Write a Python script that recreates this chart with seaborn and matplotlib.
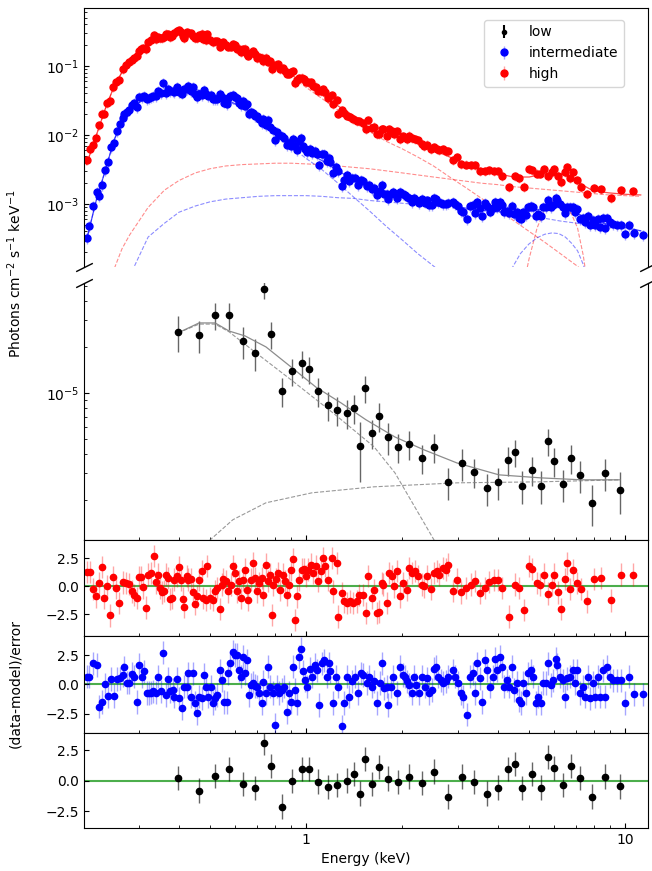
import numpy as np
import matplotlib
matplotlib.use("Agg")
import matplotlib.pyplot as plt
import matplotlib.ticker as mticker
import seaborn as sns

# ---------------- data ----------------
# energies in keV; red/blue spectra as log10(photons cm^-2 s^-1 keV^-1)
high_E = [0.206, 0.211, 0.215, 0.220, 0.224, 0.229, 0.233, 0.238, 0.243, 0.249, 0.254, 0.259, 0.267, 0.273, 0.279,
          0.285, 0.289, 0.295, 0.300, 0.304, 0.308, 0.315, 0.320, 0.327, 0.334, 0.338, 0.343, 0.349, 0.354, 0.359,
          0.364, 0.369, 0.375, 0.380, 0.386, 0.394, 0.400, 0.406, 0.411, 0.414, 0.424, 0.427, 0.436, 0.442, 0.449,
          0.455, 0.462, 0.472, 0.476, 0.486, 0.489, 0.500, 0.511, 0.519, 0.526, 0.538, 0.545, 0.549, 0.561, 0.570,
          0.582, 0.590, 0.599, 0.608, 0.617, 0.625, 0.634, 0.644, 0.653, 0.658, 0.672, 0.682, 0.692, 0.702, 0.712,
          0.728, 0.733, 0.749, 0.760, 0.771, 0.782, 0.788, 0.805, 0.817, 0.829, 0.847, 0.859, 0.872, 0.885, 0.897,
          0.910, 0.924, 0.937, 0.951, 0.971, 0.986, 1.000, 1.014, 1.037, 1.052, 1.075, 1.091, 1.114, 1.131, 1.147,
          1.172, 1.206, 1.215, 1.251, 1.260, 1.297, 1.316, 1.344, 1.374, 1.404, 1.445, 1.466, 1.509, 1.542, 1.564,
          1.610, 1.634, 1.670, 1.694, 1.731, 1.744, 1.794, 1.821, 1.861, 1.888, 1.929, 1.971, 2.014, 2.073, 2.104,
          2.150, 2.197, 2.245, 2.310, 2.344, 2.395, 2.466, 2.519, 2.575, 2.612, 2.688, 2.747, 2.787, 2.889, 2.974,
          3.061, 3.173, 3.289, 3.386, 3.510, 3.639, 3.745, 3.883, 3.996, 4.113, 4.327, 4.518, 4.649, 4.821, 4.998,
          5.107, 5.295, 5.410, 5.568, 5.731, 5.899, 5.985, 6.161, 6.297, 6.479, 6.575, 6.717, 6.863, 7.064, 7.270,
          7.590, 7.985, 8.398, 9.025, 9.700, 10.58]
high_logflux = [-2.37, -2.21, -2.14, -2.04, -1.86, -1.69, -1.69, -1.54, -1.51, -1.31, -1.24, -1.20, -1.05, -0.99, -0.94,
                -0.91, -0.89, -0.86, -0.78, -0.75, -0.74, -0.76, -0.65, -0.62, -0.55, -0.61, -0.58, -0.60, -0.60, -0.58,
                -0.53, -0.54, -0.58, -0.57, -0.52, -0.50, -0.48, -0.51, -0.56, -0.60, -0.51, -0.52, -0.52, -0.57, -0.60,
                -0.59, -0.55, -0.53, -0.61, -0.63, -0.54, -0.63, -0.66, -0.64, -0.64, -0.72, -0.67, -0.66, -0.69, -0.72,
                -0.72, -0.68, -0.70, -0.76, -0.75, -0.80, -0.76, -0.75, -0.82, -0.85, -0.81, -0.78, -0.83, -0.88, -0.87,
                -0.88, -0.93, -0.88, -0.94, -0.93, -1.05, -0.98, -0.98, -0.97, -1.04, -1.03, -1.07, -1.11, -1.11, -1.09,
                -1.07, -1.25, -1.21, -1.18, -1.17, -1.19, -1.23, -1.23, -1.24, -1.29, -1.30, -1.37, -1.36, -1.33, -1.38,
                -1.46, -1.42, -1.55, -1.49, -1.69, -1.64, -1.68, -1.72, -1.74, -1.77, -1.80, -1.80, -1.83, -1.92, -1.79,
                -1.90, -1.88, -1.99, -1.99, -1.91, -1.92, -2.01, -1.91, -1.94, -1.99, -1.95, -2.06, -2.02, -2.06, -2.01,
                -2.04, -2.06, -2.08, -2.13, -2.16, -2.14, -2.21, -2.18, -2.20, -2.22, -2.21, -2.24, -2.23, -2.36, -2.32,
                -2.42, -2.43, -2.44, -2.44, -2.53, -2.52, -2.51, -2.52, -2.53, -2.59, -2.76, -2.60, -2.63, -2.75, -2.50,
                -2.51, -2.56, -2.56, -2.50, -2.60, -2.54, -2.49, -2.59, -2.68, -2.54, -2.47, -2.62, -2.54, -2.66, -2.75,
                -2.86, -2.77, -2.78, -2.92, -2.80, -2.81]
high_resid = [1.3, 1.3, -0.25, -0.9, 0.3, 1.75, -1.0, 0.0, -2.6, 0.8, -0.15, -1.5, 0.35, 0.3, 0.2,
              -0.45, -0.8, -1.05, 0.8, 0.8, -0.1, -1.9, 1.05, 1.2, 2.7, 0.35, 1.05, -0.15, -0.55, -0.4,
              1.05, 0.75, -1.15, -1.05, 0.6, 0.95, 1.75, 0.6, -1.1, -1.85, 0.9, 0.6, 0.65, -0.55, -1.55,
              -0.9, 0.6, 1.35, -1.05, -1.2, 1.8, -1.05, -1.2, -0.45, -0.15, -2.0, 0.15, 0.65, 0.45, -0.45,
              0.15, 1.8, 1.2, -0.45, 0.45, -1.05, 0.6, 1.5, -0.3, -1.2, 0.6, 2.05, 0.75, -0.45, 0.3,
              0.75, -0.75, 1.95, 0.45, 1.05, -2.55, 0.15, 0.65, 1.2, -0.3, 1.05, 0.45, -0.75, 0.15, 1.5,
              2.45, -3.0, -0.9, 0.6, 1.5, 1.55, 0.9, 1.5, 1.95, 1.2, 1.8, 0.45, 1.35, 2.55, 1.8,
              0.6, 2.55, -0.45, 2.1, -2.7, -0.6, -1.35, -1.5, -1.35, -1.5, -1.35, -0.75, -0.75, -2.4, 0.9,
              -1.05, -0.3, -2.4, -2.25, 0.3, 0.15, -1.5, 1.2, 0.9, 0.0, 1.35, -0.9, 0.3, -0.3, 1.65,
              1.2, 1.35, 0.9, 0.15, 0.0, 0.9, -0.25, 1.2, 1.35, 1.05, 1.65, 1.5, 1.95, -0.4, 0.6,
              -0.55, -0.15, 0.15, 0.45, -0.6, -0.15, 0.4, 0.55, 0.55, -0.15, -2.7, 0.15, -0.15, -2.1, 1.8,
              1.55, 0.3, 0.15, 1.05, -0.65, 0.15, 1.05, -0.55, -2.05, 0.65, 2.05, -0.25, 1.45, 0.3, -0.25,
              -1.35, 0.65, 0.75, -1.25, 1.05, 1.05]

mid_E = [0.206, 0.209, 0.215, 0.221, 0.224, 0.229, 0.234, 0.240, 0.245, 0.250, 0.256, 0.261, 0.267, 0.269, 0.275,
         0.279, 0.285, 0.289, 0.295, 0.300, 0.306, 0.311, 0.317, 0.322, 0.327, 0.331, 0.338, 0.343, 0.351, 0.356,
         0.364, 0.369, 0.375, 0.383, 0.386, 0.394, 0.400, 0.409, 0.414, 0.424, 0.427, 0.436, 0.442, 0.449, 0.455,
         0.462, 0.472, 0.479, 0.486, 0.493, 0.504, 0.511, 0.519, 0.526, 0.538, 0.545, 0.553, 0.565, 0.570, 0.578,
         0.590, 0.599, 0.608, 0.617, 0.625, 0.634, 0.644, 0.653, 0.663, 0.672, 0.682, 0.692, 0.702, 0.712, 0.728,
         0.733, 0.749, 0.760, 0.771, 0.788, 0.800, 0.811, 0.823, 0.841, 0.853, 0.872, 0.885, 0.897, 0.910, 0.924,
         0.937, 0.951, 0.965, 0.979, 0.993, 1.007, 1.029, 1.044, 1.067, 1.083, 1.098, 1.122, 1.139, 1.163, 1.181,
         1.189, 1.215, 1.242, 1.260, 1.297, 1.316, 1.344, 1.364, 1.394, 1.424, 1.456, 1.487, 1.509, 1.553, 1.576,
         1.610, 1.634, 1.670, 1.707, 1.731, 1.756, 1.794, 1.808, 1.847, 1.874, 1.929, 1.971, 2.014, 2.044, 2.073,
         2.104, 2.150, 2.181, 2.213, 2.262, 2.311, 2.361, 2.395, 2.430, 2.483, 2.519, 2.556, 2.593, 2.650, 2.688,
         2.747, 2.787, 2.889, 2.931, 2.995, 3.061, 3.105, 3.196, 3.266, 3.337, 3.386, 3.435, 3.510, 3.561, 3.639,
         3.692, 3.772, 3.855, 3.911, 3.968, 4.054, 4.113, 4.172, 4.264, 4.326, 4.421, 4.485, 4.583, 4.649, 4.716,
         4.786, 4.890, 4.961, 5.071, 5.144, 5.257, 5.333, 5.449, 5.528, 5.649, 5.731, 5.856, 5.942, 6.071, 6.115,
         6.250, 6.385, 6.479, 6.575, 6.717, 6.863, 6.963, 7.064, 7.218, 7.376, 7.482, 7.647, 7.758, 7.927, 8.042,
         8.218, 8.337, 8.519, 8.642, 8.769, 8.961, 9.157, 9.425, 9.703, 9.984, 10.28, 10.65, 11.36]
mid_logflux = [-3.50, -3.32, -3.03, -2.83, -2.89, -2.73, -2.51, -2.39, -2.18, -2.12, -1.95, -1.84, -1.75, -1.69, -1.67,
               -1.64, -1.56, -1.54, -1.60, -1.45, -1.45, -1.43, -1.48, -1.46, -1.45, -1.43, -1.43, -1.36, -1.39, -1.25,
               -1.39, -1.33, -1.36, -1.36, -1.38, -1.31, -1.38, -1.40, -1.33, -1.34, -1.29, -1.37, -1.30, -1.40, -1.45,
               -1.40, -1.42, -1.35, -1.40, -1.44, -1.42, -1.48, -1.48, -1.48, -1.40, -1.45, -1.53, -1.55, -1.46, -1.44,
               -1.42, -1.45, -1.46, -1.53, -1.56, -1.51, -1.58, -1.55, -1.69, -1.67, -1.68, -1.72, -1.73, -1.77, -1.83,
               -1.77, -1.85, -1.79, -1.88, -1.93, -2.07, -1.96, -2.00, -2.02, -2.04, -2.15, -2.11, -2.16, -2.06, -2.16,
               -2.22, -2.09, -2.04, -2.16, -2.21, -2.25, -2.20, -2.26, -2.23, -2.27, -2.43, -2.28, -2.28, -2.38, -2.34,
               -2.39, -2.55, -2.47, -2.53, -2.74, -2.66, -2.58, -2.67, -2.63, -2.63, -2.72, -2.65, -2.67, -2.74, -2.72,
               -2.78, -2.77, -2.87, -2.81, -2.73, -2.85, -2.85, -2.93, -2.86, -2.83, -2.92, -2.82, -2.86, -2.87, -2.90,
               -2.92, -2.97, -2.91, -2.94, -2.99, -2.93, -2.98, -2.95, -3.02, -3.02, -2.92, -2.93, -2.97, -2.98, -3.00,
               -3.00, -2.99, -2.97, -3.00, -3.03, -3.10, -3.12, -3.22, -3.03, -3.02, -3.13, -2.97, -3.06, -3.18, -2.98,
               -3.03, -3.11, -3.06, -2.97, -3.04, -2.97, -3.02, -3.12, -3.10, -3.13, -3.03, -3.15, -3.11, -3.20, -3.22,
               -3.11, -3.16, -3.05, -3.03, -3.05, -3.18, -3.14, -3.17, -3.05, -3.04, -2.94, -3.04, -3.02, -2.91, -2.94,
               -3.00, -3.04, -3.13, -3.05, -3.05, -3.04, -3.12, -3.07, -3.22, -3.20, -3.26, -3.18, -3.30, -3.23, -3.31,
               -3.22, -3.33, -3.21, -3.35, -3.20, -3.26, -3.29, -3.30, -3.31, -3.44, -3.31, -3.42, -3.45]
mid_resid = [0.65, 0.65, 1.8, 1.65, -1.9, -1.5, 0.0, -1.0, 0.45, -1.0, 0.45, 0.5, 0.8, 1.45, 0.15,
             0.15, 0.9, 0.65, -1.5, 1.65, 0.65, 1.1, -0.75, -0.75, -0.7, -0.6, -0.7, 0.65, -0.6, 2.7,
             -0.9, 0.45, -0.6, -0.5, -1.05, 0.45, -1.2, -2.05, -0.2, -0.2, 0.95, -1.05, 0.95, -1.6, -2.45,
             -1.05, -1.2, 0.8, -0.2, -1.05, -0.2, -1.6, -1.2, -0.9, 1.2, 0.35, -1.5, -1.55, 0.95, 1.8,
             2.8, 2.5, 2.5, 1.2, 0.65, 2.35, 0.95, 2.05, -0.9, -0.05, 0.15, -0.15, -0.2, -0.7, -1.6,
             0.2, -0.75, 1.5, -0.2, -0.75, -3.45, -0.2, -0.75, -0.5, -0.2, -2.35, -0.75, -1.5, 1.5, -0.5,
             -1.6, 2.35, 3.05, 1.1, 0.35, -0.2, 1.35, 0.65, 1.65, 1.2, -1.75, 1.8, 2.05, 0.65, 1.8,
             1.1, -1.6, 0.65, -0.2, -3.6, -1.6, 0.65, -1.05, 0.25, 0.65, -0.75, 0.95, 0.8, 0.1, 0.65,
             -0.2, 0.25, -1.6, 0.1, 1.8, -0.35, -0.2, -1.75, -0.2, 0.65, -0.75, 1.5, 0.8, 0.65, 0.25,
             -0.05, -0.75, 0.65, -0.05, -0.75, 0.65, -0.2, 0.5, -0.75, -0.5, 1.35, 1.5, 0.65, 0.35, 0.1,
             0.25, 0.65, 1.2, 0.65, 0.1, -0.75, -1.05, -2.6, 0.65, 0.95, -0.75, 1.8, 0.5, -1.5, 2.05,
             1.2, -0.2, 0.65, 2.2, 1.2, 2.35, 1.5, -0.2, 0.35, -0.2, 1.5, -0.5, 0.1, -1.35, -1.6,
             0.1, -0.75, 0.95, 1.2, 0.65, -1.6, -1.05, -1.6, 0.1, 0.1, 1.8, -0.05, 0.35, 2.2, 1.65,
             0.65, 0.35, -1.05, 0.5, 0.65, 1.2, 0.1, 1.2, -0.75, -0.2, -1.05, 0.65, -1.2, 0.1, -1.05,
             0.65, -1.05, 1.2, -1.05, 1.5, 0.65, 0.35, 0.35, 0.35, -1.6, 0.65, -0.85, -0.85]

low_E = [0.397, 0.462, 0.519, 0.574, 0.635, 0.692, 0.738, 0.777, 0.841, 0.904, 0.971, 1.022, 1.09, 1.17, 1.25,
         1.34, 1.41, 1.48, 1.53, 1.61, 1.69, 1.81, 1.94, 2.10, 2.31, 2.52, 2.79, 3.08, 3.36, 3.69,
         4.00, 4.30, 4.52, 4.75, 5.11, 5.45, 5.74, 5.99, 6.39, 6.77, 7.22, 7.88, 8.65, 9.64]
low_flux = [2.51e-5, 2.39e-5, 3.24e-5, 3.24e-5, 2.19e-5, 1.82e-5, 4.79e-5, 2.43e-5, 1.03e-5, 1.39e-5, 1.57e-5,
            1.44e-5, 1.03e-5, 8.35e-6, 7.74e-6, 7.40e-6, 7.98e-6, 4.51e-6, 1.08e-5, 5.48e-6, 7.08e-6, 5.16e-6,
            4.44e-6, 4.65e-6, 3.76e-6, 4.44e-6, 2.62e-6, 3.48e-6, 3.05e-6, 2.39e-6, 2.62e-6, 3.65e-6, 4.11e-6,
            2.47e-6, 3.14e-6, 2.47e-6, 4.85e-6, 3.60e-6, 2.54e-6, 3.76e-6, 2.91e-6, 1.91e-6, 3.00e-6, 2.32e-6]
low_rel_err = [0.26, 0.24, 0.2, 0.2, 0.24, 0.24, 0.14, 0.2, 0.22, 0.2, 0.2, 0.2, 0.22, 0.22, 0.22,
               0.22, 0.22, 0.42, 0.2, 0.22, 0.22, 0.24, 0.22, 0.22, 0.22, 0.22, 0.24, 0.24, 0.22, 0.24,
               0.24, 0.22, 0.2, 0.24, 0.22, 0.24, 0.2, 0.22, 0.24, 0.22, 0.24, 0.3, 0.24, 0.3]
low_resid = [0.22, -0.79, 0.41, 0.96, -0.25, -0.60, 3.09, 1.23, -2.10, 0.0, 0.96, 0.96, -0.05, -0.49, -0.33,
             0.03, 0.55, -1.04, 1.80, -0.25, 1.12, 0.19, -0.08, 0.36, -0.19, 0.77, -1.28, 0.36, -0.08, -1.04,
             -0.55, 0.96, 1.39, -0.60, 0.55, -0.55, 1.97, 1.04, -0.33, 1.23, 0.25, -1.28, 0.36, -0.44]

high_rel_err = 0.15
mid_rel_err = 0.18

# model curves (log10 units for red/blue), knots in keV
model_E = [0.205, 0.22, 0.235, 0.25, 0.265, 0.28, 0.32, 0.36, 0.40, 0.45, 0.50, 0.56, 0.63, 0.71, 0.80, 0.90, 1.0,
           1.12, 1.26, 1.41, 1.58, 1.78, 2.0, 2.24, 2.51, 2.82, 3.16, 3.55, 3.98, 4.47, 5.01, 5.62, 6.31, 7.08,
           7.94, 8.91, 10.0, 11.2]
high_total = [-2.43, -2.01, -1.62, -1.30, -1.09, -0.93, -0.68, -0.57, -0.53, -0.55, -0.60, -0.70, -0.78, -0.88,
              -1.00, -1.13, -1.27, -1.42, -1.58, -1.72, -1.84, -1.95, -2.03, -2.12, -2.22, -2.32, -2.42, -2.50,
              -2.56, -2.61, -2.61, -2.56, -2.56, -2.68, -2.81, -2.84, -2.86, -2.87]
high_hard = [-5.5, -5.0, -4.5, -3.95, -3.65, -3.45, -3.05, -2.80, -2.66, -2.55, -2.49, -2.45, -2.43, -2.42,
             -2.41, -2.41, -2.42, -2.43, -2.45, -2.47, -2.49, -2.52, -2.55, -2.58, -2.61, -2.64, -2.67, -2.70,
             -2.72, -2.75, -2.77, -2.79, -2.81, -2.83, -2.85, -2.87, -2.88, -2.89]
high_soft = [-2.43, -2.01, -1.62, -1.30, -1.09, -0.93, -0.68, -0.58, -0.54, -0.56, -0.61, -0.71, -0.80, -0.90,
             -1.02, -1.16, -1.31, -1.47, -1.64, -1.80, -1.95, -2.09, -2.20, -2.32, -2.45, -2.61, -2.76, -2.92,
             -3.08, -3.24, -3.40, -3.56, -3.73, -3.90, -4.10, -4.3, -4.5, -4.7]
mid_total = [-3.53, -2.95, -2.51, -2.08, -1.80, -1.63, -1.44, -1.36, -1.33, -1.34, -1.40, -1.48, -1.60, -1.73,
             -1.93, -2.10, -2.24, -2.37, -2.52, -2.65, -2.75, -2.84, -2.89, -2.94, -2.99, -3.02, -3.06, -3.09,
             -3.11, -3.12, -3.11, -3.06, -3.05, -3.14, -3.24, -3.30, -3.34, -3.39]
mid_hard = [-6.0, -5.5, -5.0, -4.6, -4.3, -4.05, -3.48, -3.28, -3.12, -3.03, -2.97, -2.93, -2.91, -2.89,
            -2.88, -2.88, -2.88, -2.89, -2.91, -2.92, -2.95, -2.97, -2.99, -3.01, -3.03, -3.05, -3.08, -3.10,
            -3.12, -3.14, -3.17, -3.21, -3.25, -3.28, -3.31, -3.34, -3.36, -3.39]
mid_soft = [-3.53, -2.95, -2.51, -2.08, -1.80, -1.63, -1.44, -1.37, -1.34, -1.35, -1.41, -1.49, -1.62, -1.76,
            -1.98, -2.17, -2.34, -2.50, -2.70, -2.90, -3.10, -3.32, -3.52, -3.72, -3.90, -4.10, -4.3, -4.5,
            -4.7, -4.9, -5.1, -5.3, -5.5, -5.7, -5.9, -6.1, -6.3, -6.5]
line_E = [4.4, 4.7, 5.0, 5.3, 5.6, 5.9, 6.2, 6.5, 6.8, 7.1, 7.4, 7.7, 8.0]
high_line = [-5.0, -4.4, -3.80, -3.35, -3.08, -2.96, -2.95, -3.03, -3.15, -3.35, -3.75, -4.3, -5.0]
mid_line = [-3.95, -3.72, -3.58, -3.49, -3.44, -3.42, -3.43, -3.48, -3.57, -3.68, -3.88, -4.15, -4.5]

low_model_E = [0.397, 0.462, 0.519, 0.574, 0.644, 0.749, 0.897, 1.075, 1.287, 1.542, 1.900, 2.344, 2.974, 4.025,
               5.449, 7.32, 9.64]
low_model = [2.47e-5, 2.87e-5, 2.87e-5, 2.54e-5, 2.36e-5, 2.00e-5, 1.48e-5, 1.09e-5, 8.61e-6, 6.67e-6, 5.15e-6,
             4.24e-6, 3.48e-6, 2.91e-6, 2.78e-6, 2.70e-6, 2.70e-6]
low_soft_E = [0.397, 0.462, 0.519, 0.574, 0.692, 0.897, 1.215, 1.634, 1.900, 2.52, 2.8]
low_soft = [2.47e-5, 2.82e-5, 2.82e-5, 2.51e-5, 1.85e-5, 1.22e-5, 7.40e-6, 4.44e-6, 3.00e-6, 1.09e-6, 5.0e-7]
low_hard_E = [0.45, 0.500, 0.590, 0.749, 1.044, 1.634, 2.974, 5.449, 9.64]
low_hard = [5.0e-7, 1.09e-6, 1.48e-6, 1.91e-6, 2.22e-6, 2.43e-6, 2.58e-6, 2.62e-6, 2.70e-6]

for a, b in [(high_E, high_logflux), (high_E, high_resid), (mid_E, mid_logflux), (mid_E, mid_resid),
             (low_E, low_flux), (low_E, low_resid), (low_E, low_rel_err)]:
    assert len(a) == len(b), (len(a), len(b))


def lin(vals):
    # log10 readings -> photons cm^-2 s^-1 keV^-1
    return 10 ** np.asarray(vals, dtype=float)


plt.rcParams['font.family'] = ['DejaVu Sans']
plt.rcParams['font.size'] = 10

fig = plt.figure(figsize=(6.52, 8.71), dpi=100)
L, W = 0.1288, 0.865
ax_top = fig.add_axes([L, 0.6935, W, 0.2974])
ax_low = fig.add_axes([L, 0.380, W, 0.2951])
ax_r1 = fig.add_axes([L, 0.2698, W, 0.1102])
ax_r2 = fig.add_axes([L, 0.1584, W, 0.1114])
ax_r3 = fig.add_axes([L, 0.0494, W, 0.1091])
all_axes = [ax_top, ax_low, ax_r1, ax_r2, ax_r3]

for ax in all_axes:
    ax.set_xscale('log')
ax_top.set_yscale('log')
ax_low.set_yscale('log')

RED_E = (1, 0, 0, 0.35)
BLUE_E = (0, 0, 1, 0.35)
BLACK_E = (0, 0, 0, 0.6)

# top spectra
hi_f = lin(high_logflux)
mid_f = lin(mid_logflux)
h_mid = ax_top.errorbar(mid_E, mid_f, yerr=mid_f * mid_rel_err, fmt='o', ms=5, color='blue', ecolor=BLUE_E,
                        elinewidth=1, label='intermediate')
h_high = ax_top.errorbar(high_E, hi_f, yerr=hi_f * high_rel_err, fmt='o', ms=5, color='red', ecolor=RED_E,
                         elinewidth=1, label='high')
h_low = ax_top.errorbar([0.1], [1e-8], yerr=[1e-9], fmt='o', ms=3, color='k', label='low')

for E, vals, col in [(model_E, high_total, 'red'), (model_E, mid_total, 'blue')]:
    sns.lineplot(x=E, y=lin(vals), ax=ax_top, color=col, lw=0.9, alpha=0.7, estimator=None, sort=False)
for E, vals, col in [(model_E, high_hard, 'red'), (model_E, high_soft, 'red'), (line_E, high_line, 'red'),
                     (model_E, mid_hard, 'blue'), (model_E, mid_soft, 'blue'), (line_E, mid_line, 'blue')]:
    sns.lineplot(x=E, y=lin(vals), ax=ax_top, color=col, lw=0.8, alpha=0.45, ls='--', estimator=None, sort=False)

# low state spectrum
low_f = np.asarray(low_flux)
ax_low.errorbar(low_E, low_f, yerr=low_f * np.asarray(low_rel_err), fmt='o', ms=4.5, color='k', ecolor=BLACK_E,
                elinewidth=1)
sns.lineplot(x=low_model_E, y=low_model, ax=ax_low, color='gray', lw=0.9, alpha=0.9, estimator=None, sort=False)
sns.lineplot(x=low_soft_E, y=low_soft, ax=ax_low, color='gray', lw=0.8, alpha=0.8, ls='--', estimator=None, sort=False)
sns.lineplot(x=low_hard_E, y=low_hard, ax=ax_low, color='gray', lw=0.8, alpha=0.8, ls='--', estimator=None, sort=False)

# residuals
for ax, E, r, col, ecol in [(ax_r1, high_E, high_resid, 'red', RED_E), (ax_r2, mid_E, mid_resid, 'blue', BLUE_E),
                            (ax_r3, low_E, low_resid, 'k', BLACK_E)]:
    ax.axhline(0, color='tab:green', lw=1.5, alpha=0.85, zorder=1.5)
    ax.errorbar(E, r, yerr=np.ones(len(r)), fmt='o', ms=4.5, color=col, ecolor=ecol, elinewidth=1)
    ax.set_yticks([-2.5, 0.0, 2.5])

ax_r1.set_ylim(-4.44, 4.14)
ax_r2.set_ylim(-4.16, 4.13)
ax_r3.set_ylim(-3.85, 3.93)
ax_top.set_ylim(1.22e-4, 0.693)
ax_low.set_ylim(1.09e-6, 5.24e-5)

for ax in all_axes:
    ax.set_xlim(0.2014, 11.8)
    ax.tick_params(which='both', direction='in')
    ax.xaxis.set_major_formatter(mticker.FuncFormatter(lambda v, p: f'{v:g}'))
    ax.xaxis.set_minor_formatter(mticker.NullFormatter())
    ax.set_xlabel('')
    ax.set_ylabel('')
    if ax is not ax_r3:
        ax.tick_params(axis='x', which='both', labelbottom=False)

# broken axis between the two spectrum panels
ax_top.spines['bottom'].set_visible(False)
ax_top.tick_params(axis='x', which='both', bottom=False)
ax_low.spines['top'].set_visible(False)
brk = dict(marker=[(-1, -0.5), (1, 0.5)], markersize=12, linestyle='none', color='k', mec='k', mew=1,
           clip_on=False)
ax_top.plot([0, 1], [0, 0], transform=ax_top.transAxes, **brk)
ax_low.plot([0, 1], [1, 1], transform=ax_low.transAxes, **brk)

ax_top.legend([h_low, h_mid, h_high], ['low', 'intermediate', 'high'], loc='upper right',
              bbox_to_anchor=(0.957, 0.954), borderaxespad=0)

ax_r3.set_xlabel('Energy (keV)')
fig.text(0.023, 1 - 274 / 871, 'Photons cm$^{-2}$ s$^{-1}$ keV$^{-1}$', rotation=90, va='center', ha='center')
fig.text(0.023, 1 - 684 / 871, '(data-model)/error', rotation=90, va='center', ha='center')

fig.savefig('out.png', dpi=100)
